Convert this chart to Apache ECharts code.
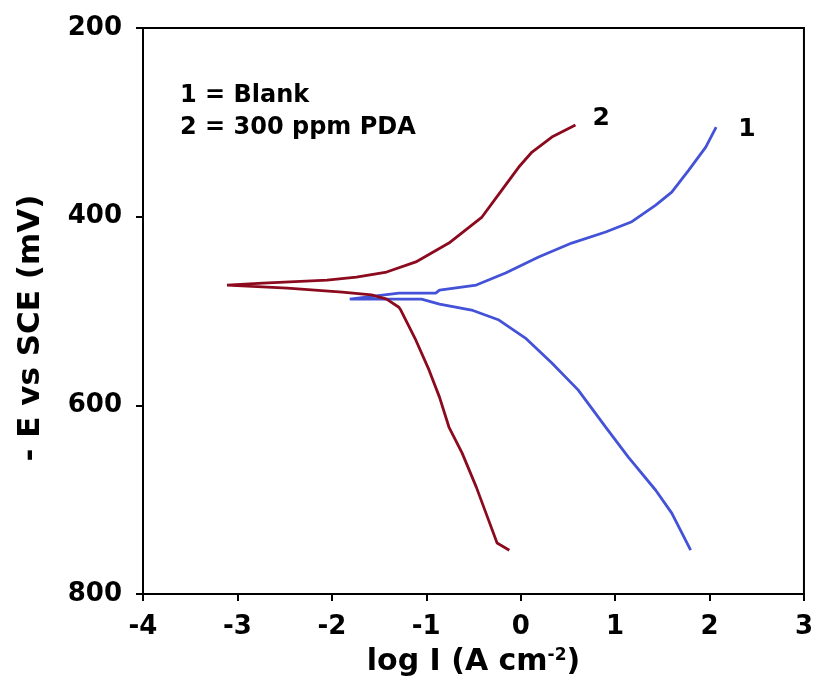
<!DOCTYPE html>
<html>
<head>
<meta charset="utf-8">
<script src="https://cdn.jsdelivr.net/npm/echarts@6/dist/echarts.min.js"></script>
<style>
html,body{margin:0;padding:0;background:#fff;}
#main{width:816px;height:682px;}
</style>
</head>
<body>
<div id="main"></div>
<script>
// curve 1 = Blank, curve 2 = 300 ppm PDA ; [log I, -E]
var blankCath=[[1.80,753.6],[1.60,714.3],[1.43,690],[1.14,655],[0.90,623.1],[0.61,583.9],[0.33,555.2],[0.05,528.7],[-0.23,509.6],[-0.52,499],[-0.86,492.7],[-1.05,487.4],[-1.81,487.4]];
var blankAnod=[[-1.29,481],[-0.90,481],[-0.86,477.8],[-0.47,472.5],[-0.16,459.8],[0.19,442.8],[0.54,428],[0.90,416.3],[1.17,405.7],[1.43,387.7],[1.60,373.9],[1.78,350.6],[1.96,326.2],[2.07,305]];
var pdaCath=[[-0.12,753.6],[-0.25,746],[-0.34,721.7],[-0.47,686.7],[-0.62,650.7],[-0.76,623],[-0.86,591.3],[-0.97,562.7],[-1.11,531],[-1.27,499],[-1.29,496],[-1.42,487.4],[-1.58,483],[-1.89,480],[-2.47,475.7],[-3.11,472.5]];
var pdaAnod=[[-2.73,470.4],[-2.05,467.2],[-1.74,464],[-1.42,458.7],[-1.11,448],[-0.76,428],[-0.41,400.4],[-0.20,371.8],[-0.02,347.4],[0.12,331.5],[0.33,315.6],[0.58,302.9]];
var xTicks=[-4,3,1];   // min, max, interval
var yTicks=[200,800,200];

var mychart=echarts.init(document.getElementById('main'));
var font='"DejaVu Sans", sans-serif';
var option={
	animation:false,
	grid:{left:143,right:10,top:28,bottom:88,show:true,borderColor:'#000',borderWidth:2,backgroundColor:'transparent'},
	graphic:[
		{type:'text',left:180,top:84,style:{text:'1 = Blank',font:'bold 24px '+font,fill:'#000'}},
		{type:'text',left:180,top:116,style:{text:'2 = 300 ppm PDA',font:'bold 24px '+font,fill:'#000'}}
	],
	xAxis:{
		type:'value',min:xTicks[0],max:xTicks[1],interval:xTicks[2],
		name:'{t|log I (A cm}{s|-2}{t|)}',nameLocation:'middle',nameGap:53,
		nameTextStyle:{rich:{
			t:{fontFamily:font,fontWeight:'bold',fontSize:30,color:'#000'},
			s:{fontFamily:font,fontWeight:'bold',fontSize:17,color:'#000',verticalAlign:'top',padding:[0,0,12,0]}
		}},
		axisLine:{onZero:false,lineStyle:{color:'#000',width:2}},
		axisTick:{show:true,length:7,lineStyle:{color:'#000',width:2}},
		splitLine:{show:false},
		axisLabel:{color:'#000',fontFamily:font,fontWeight:'bold',fontSize:26,margin:20}
	},
	yAxis:{
		type:'value',inverse:true,min:yTicks[0],max:yTicks[1],interval:yTicks[2],
		name:'- E vs SCE (mV)',nameLocation:'middle',nameGap:97,
		nameTextStyle:{color:'#000',fontFamily:font,fontWeight:'bold',fontSize:31,padding:[0,34,0,0]},
		axisLine:{onZero:false,lineStyle:{color:'#000',width:2}},
		axisTick:{show:true,length:7,lineStyle:{color:'#000',width:2}},
		splitLine:{show:false},
		axisLabel:{color:'#000',fontFamily:font,fontWeight:'bold',fontSize:26,margin:21}
	},
	series:[
		{
			name:'1',type:'line',showSymbol:false,
			data:blankCath.concat(blankAnod),
			lineStyle:{color:'#4352d6',width:2.8},
			endLabel:{show:true,formatter:'1',color:'#000',fontFamily:font,fontWeight:'bold',fontSize:25,offset:[14,2]}
		},
		{
			name:'2',type:'line',showSymbol:false,
			data:pdaCath.concat(pdaAnod),
			lineStyle:{color:'#8b0a1e',width:2.8},
			endLabel:{show:true,formatter:'2',color:'#000',fontFamily:font,fontWeight:'bold',fontSize:25,offset:[9,-7]}
		}
	]
};
mychart.setOption(option);
</script>
</body>
</html>
